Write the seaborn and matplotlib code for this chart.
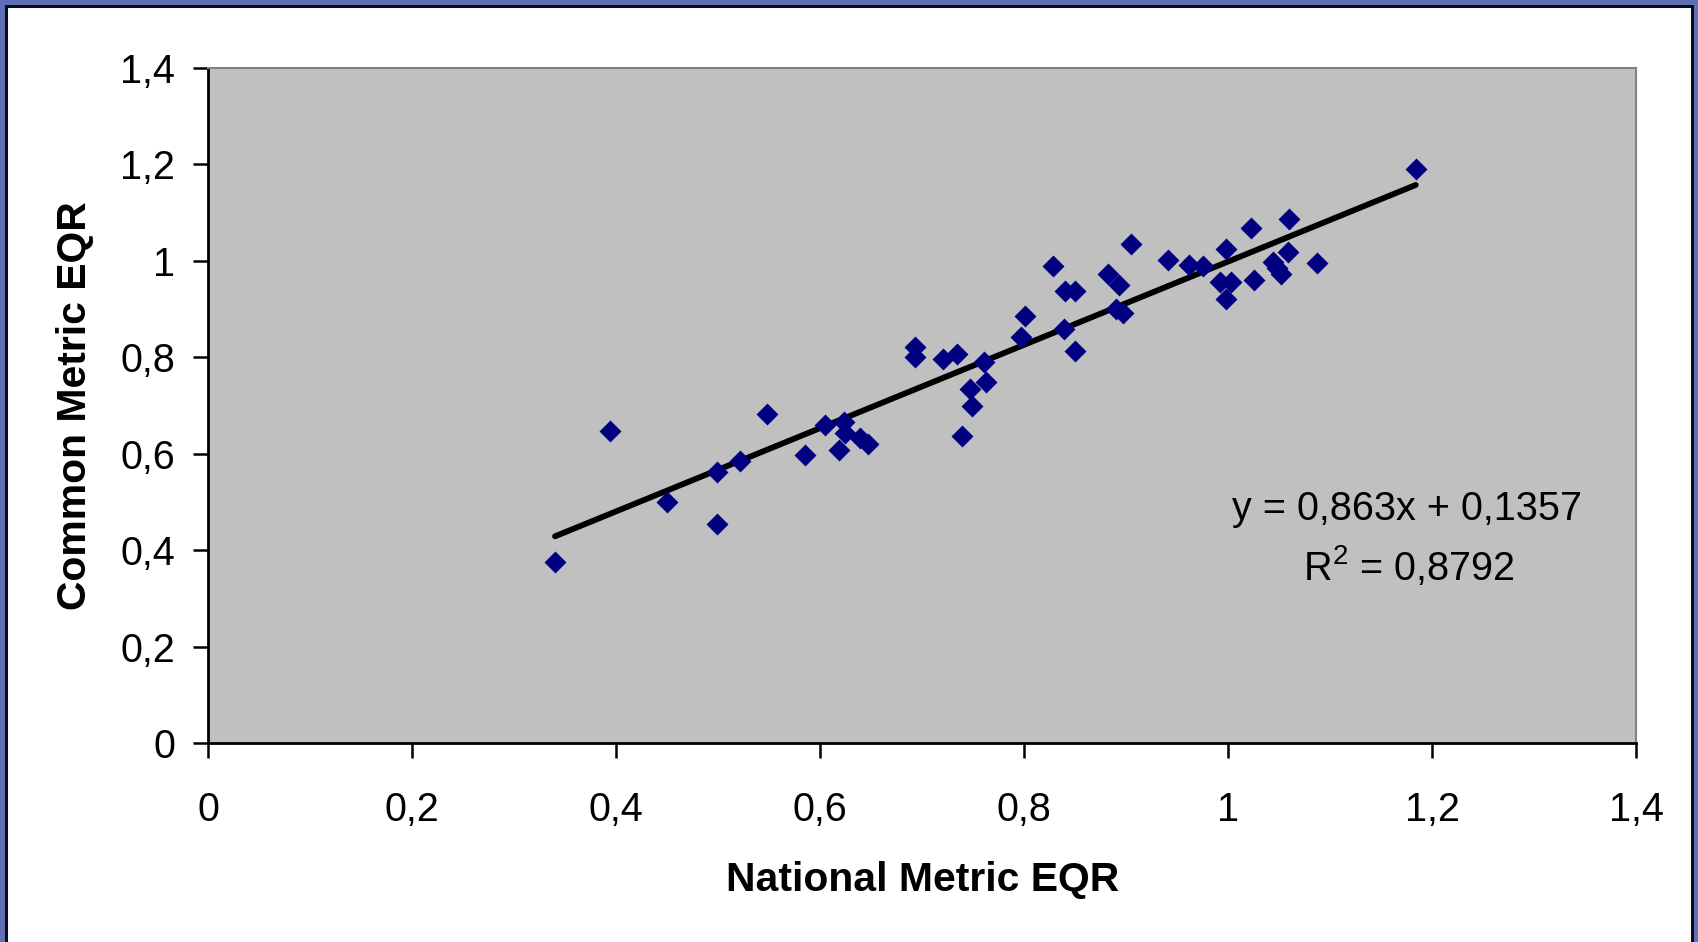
import numpy as np
import pandas as pd
import matplotlib
matplotlib.use("Agg")
import matplotlib.pyplot as plt
from matplotlib.patches import Rectangle
import seaborn as sns

national_eqr = [0.340, 0.394, 0.450, 0.499, 0.499, 0.521, 0.548, 0.585, 0.605, 0.623,
                0.624, 0.618, 0.639, 0.647, 0.693, 0.693, 0.720, 0.734, 0.761, 0.763,
                0.747, 0.749, 0.739, 0.801, 0.797, 0.828, 0.840, 0.850, 0.839, 0.850,
                0.882, 0.893, 0.890, 0.897, 0.905, 0.941, 0.962, 0.975, 0.998, 0.992,
                1.003, 0.998, 1.022, 1.025, 1.044, 1.048, 1.052, 1.059, 1.060, 1.087,
                1.184]
common_eqr = [0.375, 0.648, 0.501, 0.455, 0.563, 0.586, 0.683, 0.598, 0.660, 0.667,
              0.643, 0.608, 0.632, 0.620, 0.821, 0.801, 0.796, 0.807, 0.791, 0.750,
              0.734, 0.699, 0.637, 0.886, 0.842, 0.989, 0.938, 0.938, 0.859, 0.813,
              0.973, 0.950, 0.900, 0.892, 1.035, 1.002, 0.991, 0.989, 1.024, 0.957,
              0.956, 0.922, 1.069, 0.961, 0.997, 0.986, 0.972, 1.018, 1.087, 0.995,
              1.190]

slope = 0.863
intercept = 0.1357
r_squared = 0.8792

ticks = [0, 0.2, 0.4, 0.6, 0.8, 1, 1.2, 1.4]
tick_labels = ["0", "0,2", "0,4", "0,6", "0,8", "1", "1,2", "1,4"]

df = pd.DataFrame({"national": national_eqr, "common": common_eqr})
x_fit = np.array([df["national"].min(), df["national"].max()])
fit = pd.DataFrame({"x": x_fit, "y": slope * x_fit + intercept})

sns.set_style("white")
plt.rcParams["font.family"] = ["Liberation Sans", "DejaVu Sans"]
plt.rcParams["text.color"] = "black"
plt.rcParams["axes.labelcolor"] = "black"

fig = plt.figure(figsize=(16.98, 9.42), dpi=100)
fig.patch.set_facecolor("#5f70b6")
# white slide panel with dark outline, kept behind the axes
fig.patches.append(Rectangle((6 / 1698, -0.02), 1686 / 1698, (936 / 942) + 0.02,
                             transform=fig.transFigure, facecolor="white",
                             edgecolor="#0b0b1e", linewidth=2.2, zorder=-5))

ax = fig.add_axes([208.3 / 1698, 1 - 743.3 / 942, (1636 - 208.3) / 1698, (743.3 - 68) / 942])
ax.set_zorder(1)
ax.set_facecolor("#c0c0c0")

sns.lineplot(data=fit, x="x", y="y", color="black", linewidth=4.2, ax=ax, zorder=2)
sns.scatterplot(data=df, x="national", y="common", marker="D", color="#000080",
                s=125, linewidth=0, ax=ax, zorder=3)

ax.set_xlim(0, 1.4)
ax.set_ylim(0, 1.4)
ax.set_xticks(ticks)
ax.set_xticklabels(tick_labels)
ax.set_yticks(ticks)
ax.set_yticklabels(tick_labels)

for side in ["left", "bottom"]:
    ax.spines[side].set_color("black")
    ax.spines[side].set_linewidth(2)
for side in ["top", "right"]:
    ax.spines[side].set_color("#808080")
    ax.spines[side].set_linewidth(1.5)

ax.tick_params(axis="both", direction="out", length=11, width=1.8, color="black",
               labelsize=28.5, labelcolor="black")
ax.tick_params(axis="x", pad=23, bottom=True)
ax.tick_params(axis="y", pad=13, left=True)

ax.set_xlabel("National Metric EQR", fontsize=29.4, fontweight="bold")
ax.set_ylabel("Common Metric EQR", fontsize=29.4, fontweight="bold")
ax.xaxis.set_label_coords(0.5, -0.174)
ax.yaxis.set_label_coords(-0.0804, 0.5)

ax.text(1.175, 0.463, "y = 0,863x + 0,1357", fontsize=28.5, ha="center", va="baseline")
ax.text(1.177, 0.3385, r"R$^{\mathregular{2}}$ = " + f"{r_squared}".replace(".", ","),
        fontsize=28.5, ha="center", va="baseline")

fig.savefig("out.png", dpi=100, facecolor=fig.get_facecolor())
